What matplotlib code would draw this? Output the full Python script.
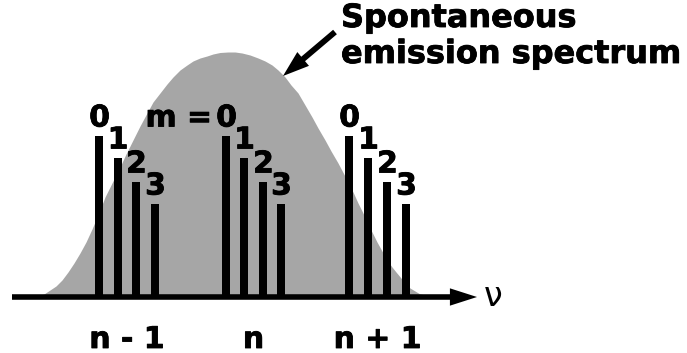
import matplotlib
matplotlib.use("Agg")
import matplotlib.pyplot as plt
from matplotlib.patches import FancyArrowPatch, ArrowStyle
import matplotlib.patheffects as pe

# ---- data (x = frequency, arbitrary units; y = intensity, arbitrary units)
spec_x = [20, 30, 37, 44, 50, 56, 62, 68, 74, 80, 86, 92, 98, 105, 112, 120, 126, 133,
          140, 147, 153, 160, 167, 173, 180, 187, 193, 200, 207, 213, 220, 228, 235,
          242, 250, 258, 265, 272, 278, 285, 291, 298, 305, 312, 318, 325, 331, 338,
          347, 353, 358, 363, 367, 372, 377, 382, 387, 392, 396, 401, 405, 410, 415,
          420, 426, 432, 440]
spec_y = [0, 0, 1, 3, 7, 11, 17, 25, 34, 44, 55, 68, 82, 100, 114, 130, 143, 157,
          171, 184, 195, 204, 213, 220, 227, 232, 236, 239, 241, 243, 244.5, 245, 245,
          244, 242, 239, 236, 232, 227, 220, 212, 204, 192, 180, 169, 157, 146, 134,
          117, 105, 94, 84, 75, 65, 55, 46, 37, 30, 25, 19, 14, 9, 6,
          3, 2, 1, 0]

group_labels = ["n - 1", "n", "n + 1"]
mode_labels = ["0", "1", "2", "3"]
mode_x = [[99, 117.5, 136, 155],
          [226, 244, 263, 281],
          [349, 368, 387, 406]]
mode_heights = [161, 139, 115, 93]

GRAY = "#a6a6a6"
FONT = "DejaVu Sans"
HEAVY = [pe.withStroke(linewidth=0.6, foreground="black")]

fig = plt.figure(figsize=(6.87, 3.53), dpi=100)
ax = fig.add_axes([0, 0, 1, 1])
ax.set_xlim(0, 687)
ax.set_ylim(-56, 297)
ax.axis("off")

# spontaneous emission spectrum
ax.fill_between(spec_x, 0, spec_y, color=GRAY, linewidth=0, zorder=1)

# mode lines
for g, xs in enumerate(mode_x):
    ax.bar(xs, mode_heights, width=8, color="black", linewidth=0, zorder=2)
    for x, h, lab in zip(xs, mode_heights, mode_labels):
        ax.text(x + 0.5, h + 9.5, lab, ha="center", va="baseline",
                fontsize=21.5, fontweight="bold", family=FONT, zorder=4,
                path_effects=HEAVY)
    ax.text(sum(xs) / len(xs), -51, group_labels[g], ha="center", va="baseline",
            fontsize=21.5, fontweight="bold", family=FONT, zorder=4,
            path_effects=HEAVY)

# "m =" prefix before the middle group's first label
ax.text(mode_x[1][0] - 14, mode_heights[0] + 9.5, "m =", ha="right", va="baseline",
        fontsize=21.5, fontweight="bold", family=FONT, zorder=4, path_effects=HEAVY)

# frequency axis with arrow
axis_arrow = FancyArrowPatch((12, 0), (477, 0),
                             arrowstyle=ArrowStyle("Simple", head_length=19.5,
                                                   head_width=12.5, tail_width=4.0),
                             mutation_scale=1, color="black", linewidth=0,
                             shrinkA=0, shrinkB=0, zorder=3)
ax.add_patch(axis_arrow)
ax.text(484, -9, "ν", ha="left", va="baseline", fontsize=24, family=FONT, zorder=4)

# annotation
ax.text(341, 270, "Spontaneous", ha="left", va="baseline",
        fontsize=23, fontweight="bold", family=FONT, zorder=4, path_effects=HEAVY)
ax.text(341, 234, "emission spectrum", ha="left", va="baseline",
        fontsize=23, fontweight="bold", family=FONT, zorder=4, path_effects=HEAVY)
ann_arrow = FancyArrowPatch((335, 265), (283, 221),
                            arrowstyle=ArrowStyle("Simple", head_length=19,
                                                  head_width=13, tail_width=4.2),
                            mutation_scale=1, color="black", linewidth=0,
                            shrinkA=0, shrinkB=0, zorder=4)
ax.add_patch(ann_arrow)

fig.savefig("out.png", dpi=100)
